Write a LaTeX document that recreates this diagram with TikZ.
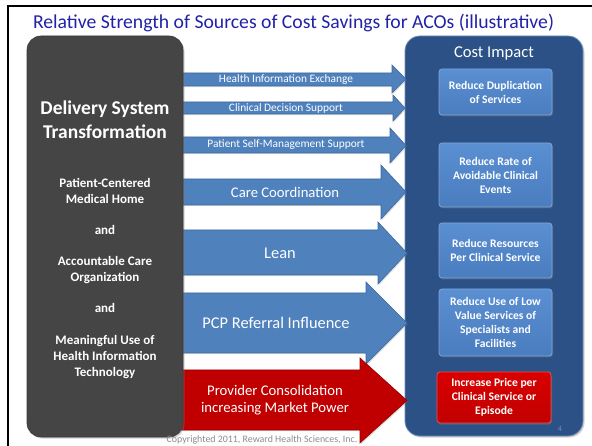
\documentclass[tikz,border=0pt]{standalone}
\usepackage{fontspec}
\setmainfont{Carlito}
\usetikzlibrary{shadows}
\definecolor{titleblue}{HTML}{2222A8}
\definecolor{arrowblue}{HTML}{4F81BD}
\definecolor{arrowedge}{HTML}{3C6A9E}
\definecolor{arrowred}{HTML}{C00000}
\definecolor{rededge}{HTML}{9A0000}
\definecolor{darkbox}{HTML}{454545}
\definecolor{darkedge}{HTML}{3A3A3A}
\definecolor{impactblue}{HTML}{2B5186}
\definecolor{impactedge}{HTML}{6F8FB8}
\definecolor{innertop}{HTML}{5A8FD2}
\definecolor{innerbot}{HTML}{4A7DC0}
\definecolor{inneredge}{HTML}{7DA5D8}
\definecolor{redtop}{HTML}{DA0000}
\definecolor{redbot}{HTML}{C00000}
\definecolor{rededgelight}{HTML}{E85050}
\definecolor{copygray}{HTML}{8C8C8C}
\definecolor{pagenum}{HTML}{6F8CB5}
\newcommand\acoarrow[7]{% headx, shafttop, shaftbot, headtop, headbot, tipx, style
  \path[#7] (175,#2) -- (#1,#2) -- (#1,#4) -- (#6,{(#4+#5)/2}) -- (#1,#5) -- (#1,#3) -- (175,#3) -- cycle;
}
\begin{document}
\begin{tikzpicture}[x=1pt,y=-1pt,
  every node/.style={inner sep=0pt, outer sep=0pt, align=center},
  bluearrow/.style={fill=arrowblue, draw=arrowedge, line width=0.6pt,
    drop shadow={shadow xshift=1pt, shadow yshift=-1.2pt, opacity=0.25}},
  redarrow/.style={fill=arrowred, draw=rededge, line width=0.6pt,
    drop shadow={shadow xshift=1pt, shadow yshift=-1.2pt, opacity=0.25}},
  titletext/.style={text=titleblue, font=\fontsize{19.7}{23}\selectfont},
  darkpanel/.style={fill=darkbox, draw=darkedge, line width=0.6pt, rounded corners=14pt,
    drop shadow={shadow xshift=1.5pt, shadow yshift=-1.5pt, opacity=0.35}},
  impactpanel/.style={fill=impactblue, draw=impactedge, line width=0.8pt, rounded corners=15pt,
    drop shadow={shadow xshift=1.5pt, shadow yshift=-1.5pt, opacity=0.35}},
  innerbox/.style={top color=innertop, bottom color=innerbot, draw=inneredge, line width=0.8pt,
    rounded corners=3pt, minimum width=113pt, text=white,
    font=\bfseries\fontsize{11.6}{14}\selectfont,
    drop shadow={shadow xshift=1pt, shadow yshift=-1.5pt, opacity=0.4}},
  redbox/.style={innerbox, top color=redtop, bottom color=redbot, draw=rededgelight, minimum width=114pt},
  lefttext/.style={text=white, font=\bfseries\fontsize{13}{16}\selectfont},
  lefthead/.style={text=white, font=\bfseries\fontsize{19.5}{24}\selectfont},
  smalllabel/.style={text=white, font=\fontsize{11.4}{13}\selectfont},
  biglabel/.style={text=white, font=\fontsize{16.4}{19}\selectfont},
  midlabel/.style={text=white, font=\fontsize{14.7}{17.5}\selectfont}]
\useasboundingbox (0,0) rectangle (592,446);
\fill[white] (0,0) rectangle (592,446);
% slide frame
\draw[line width=2pt] (8,446) -- (8,6) -- (592,6);
% title
\node[titletext, anchor=base west] (title) at (33,28.5) {Relative Strength of Sources of Cost Savings for ACOs (illustrative)};
% cost impact panel
\node[impactpanel, minimum width=178pt, minimum height=400pt] (impact) at (494,236) {};
\node[text=white, font=\fontsize{16.6}{19}\selectfont] (impacttitle) at (494,53) {Cost Impact};
% arrows
\acoarrow{392}{73}{86}{65}{93}{406}{bluearrow}
\acoarrow{393}{102}{114}{95}{121}{405}{bluearrow}
\acoarrow{390}{137}{153}{128}{163}{406}{bluearrow}
\acoarrow{381}{179}{205}{165}{219}{406}{bluearrow}
\acoarrow{378}{230}{275}{222}{284}{407}{bluearrow}
\acoarrow{366}{293}{353}{282}{364}{407}{bluearrow}
\acoarrow{360}{370}{430}{358}{443}{407}{redarrow}
% left panel
\node[darkpanel, minimum width=156pt, minimum height=401pt] (delivery) at (105,236.5) {};
\node[lefthead] (dst) at (105,120) {Delivery System\\Transformation};
\node[lefttext] (pcmh) at (105,191) {Patient-Centered\\Medical Home};
\node[lefttext] (and1) at (105,230) {and};
\node[lefttext] (aco) at (105,270) {Accountable Care\\Organization};
\node[lefttext] (and2) at (105,308) {and};
\node[lefttext] (mu) at (105,357) {Meaningful Use of\\Health Information\\Technology};
% arrow labels
\node[smalllabel] (hie) at (286,79.5) {Health Information Exchange};
\node[smalllabel] (cds) at (286,108) {Clinical Decision Support};
\node[smalllabel] (psm) at (286,145) {Patient Self-Management Support};
\node[midlabel] (cc) at (285,192) {Care Coordination};
\node[biglabel] (lean) at (280,253) {Lean};
\node[biglabel] (pcp) at (276,323) {PCP Referral Influence};
\node[midlabel] (prov) at (275,400) {Provider Consolidation\\increasing Market Power};
% inner boxes
\node[innerbox, minimum height=46pt] (dup) at (495.5,92) {Reduce Duplication\\of Services};
\node[innerbox, minimum height=64pt] (rate) at (495.5,175) {Reduce Rate of\\Avoidable Clinical\\Events};
\node[innerbox, minimum height=55pt] (res) at (495.5,250.5) {Reduce Resources\\Per Clinical Service};
\node[innerbox, minimum height=67pt] (low) at (495.5,322.5) {Reduce Use of Low\\Value Services of\\Specialists and\\Facilities};
\node[redbox, minimum height=51pt] (price) at (494,397.5) {Increase Price per\\Clinical Service or\\Episode};
% footer
\node[text=pagenum, font=\fontsize{8}{9}\selectfont] (page) at (560,429) {4};
\node[text=copygray, font=\fontsize{9.9}{11}\selectfont] (copy) at (262,440) {Copyrighted 2011, Reward Health Sciences, Inc.};
\end{tikzpicture}
\end{document}
